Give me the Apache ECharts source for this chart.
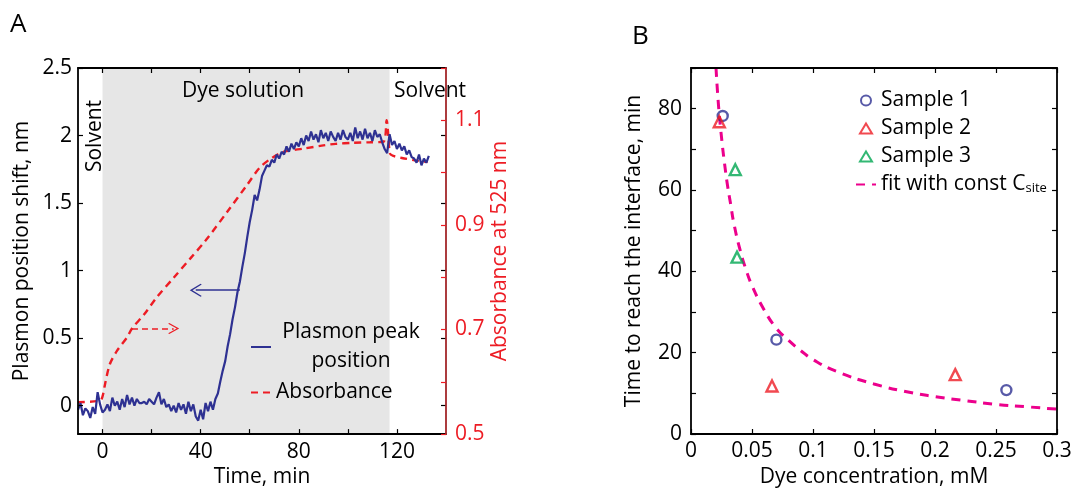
<!DOCTYPE html>
<html>
<head>
<meta charset="utf-8">
<script src="https://cdn.jsdelivr.net/npm/echarts@6/dist/echarts.min.js"></script>
<style>
  html, body { margin: 0; padding: 0; background: #fff; }
  #chart { width: 1077px; height: 493px; }
</style>
</head>
<body>
<div id="chart"></div>
<script>
// Panel A: plasmon peak shift, sampled every minute from -10 min
var plasmonStart = -10
var plasmonShift = [
  -0.03, 0.02, -0.07, -0.02, -0.04, -0.09, -0.01, -0.06, 0.10, 0.01,
  -0.05, -0.03, 0.01, -0.04, 0.06, 0.00, 0.03, -0.03, 0.05, -0.01,
  0.08, 0.01, 0.06, 0.00, 0.05, 0.02, 0.02, 0.03, 0.01, 0.05,
  0.03, 0.01, 0.06, 0.10, 0.01, 0.05, -0.01, 0.01, -0.04, 0.00,
  -0.05, 0.02, -0.03, 0.01, -0.06, 0.03, -0.04, 0.01, -0.08, -0.11,
  -0.03, -0.10, 0.02, -0.04, 0.03, -0.03, 0.05, 0.09, 0.18, 0.26,
  0.33, 0.44, 0.53, 0.64, 0.73, 0.84, 0.92, 1.03, 1.13, 1.25,
  1.36, 1.45, 1.56, 1.52, 1.60, 1.70, 1.74, 1.78, 1.77, 1.82,
  1.80, 1.86, 1.83, 1.88, 1.86, 1.92, 1.88, 1.94, 1.90, 1.95,
  1.92, 1.98, 1.93, 2.00, 1.96, 2.03, 1.97, 2.01, 1.95, 2.04,
  1.98, 2.02, 1.96, 2.03, 1.99, 1.96, 2.02, 1.97, 2.04, 1.99,
  1.97, 2.02, 1.96, 2.06, 1.98, 2.03, 1.97, 2.05, 1.98, 2.02,
  1.96, 2.04, 1.99, 2.01, 1.95, 1.90, 1.87, 2.01, 1.93, 1.96,
  1.90, 1.94, 1.89, 1.92, 1.86, 1.89, 1.84, 1.83, 1.80, 1.86,
  1.78, 1.83, 1.80, 1.85
]
var absTime = [-10, -1, 0, 1, 3, 6, 10, 12, 17, 22, 29, 36, 42, 51, 59, 64, 69, 74, 82, 90, 95, 102, 109, 114.5, 115.8, 116.5, 117.2, 118.5, 122, 128, 132.5]
var absValue = [0.561, 0.564, 0.572, 0.595, 0.634, 0.66, 0.685, 0.702, 0.729, 0.761, 0.799, 0.837, 0.87, 0.926, 0.977, 1.009, 1.028, 1.04, 1.046, 1.052, 1.055, 1.057, 1.058, 1.059, 1.10, 1.07, 1.036, 1.032, 1.028, 1.023, 1.02]
var dyeWindow = [0, 117]

// Panel B
var sample1X = [0.026, 0.07, 0.2585]
var sample1Y = [78.2, 23.2, 10.8]
var sample2X = [0.0232, 0.0664, 0.2166]
var sample2Y = [76.8, 11.8, 14.6]
var sample3X = [0.0363, 0.0377]
var sample3Y = [65, 43.5]
var fitX = [0.0205, 0.0225, 0.025, 0.0275, 0.03, 0.0325, 0.035, 0.04, 0.045, 0.05, 0.06, 0.07, 0.08, 0.09, 0.1, 0.12, 0.15, 0.18, 0.2, 0.225, 0.25, 0.275, 0.3]
var fitY = [90, 81, 73, 66.5, 61, 56.5, 52, 45.5, 40.5, 36.5, 30.5, 26, 23, 20.5, 18.3, 15.3, 12.3, 10.2, 9.2, 8.2, 7.3, 6.7, 6.1]

var timeTicks = [0, 20, 40, 60, 80, 100, 120]
var timeLabels = [0, 40, 80, 120]
var shiftTicks = [0, 0.5, 1, 1.5, 2, 2.5]
var absTicks = [0.5, 0.6, 0.7, 0.8, 0.9, 1.0, 1.1, 1.2]
var absLabels = [0.5, 0.7, 0.9, 1.1]

var BLUE = '#2e3192', RED = '#ed1c24', GREEN = '#00a651', PINK = '#ec008c'
var FONT = 'Open Sans'
var FS = 21
var CHEVRON = 'path://M0,0 L12,14 L10.5,15.5 L0,3.5 L-10.5,15.5 L-12,14 Z'
var TRI = 'path://M6,0 L12,10 L0,10 Z'
var NONE = 'rgba(255,255,255,0)'

function zip(xs, ys) {
  return xs.map(function (x, i) { return [x, ys[i]] })
}

var plasmonData = plasmonShift.map(function (v, i) { return [plasmonStart + i, v] })

var chart = echarts.init(document.getElementById('chart'))

var blackLine = { show: true, onZero: false, lineStyle: { color: '#000', width: 1.8 } }
var tickIn = function (vals, color) {
  var t = { show: true, inside: true, length: 5, lineStyle: { color: color || '#000', width: 1.2 } }
  if (vals) t.customValues = vals
  return t
}
var lbl = { color: '#000', fontSize: FS, fontFamily: FONT }
var nameStyle = { color: '#000', fontSize: FS, fontFamily: FONT }

chart.setOption({
  animation: false,
  textStyle: { fontFamily: FONT },
  grid: [
    { left: 78, top: 68, width: 368, height: 369 },
    { left: 691, top: 68, width: 366, height: 369 }
  ],
  legend: [
    {
      data: [
        { name: 'Plasmon peak position', itemStyle: { opacity: 0 } },
        { name: 'Absorbance', itemStyle: { opacity: 0 } }
      ],
      orient: 'vertical',
      left: 245, top: 317,
      itemWidth: 20, itemHeight: 12, itemGap: 10,
      textStyle: { fontSize: FS, color: '#000', fontFamily: FONT, rich: { a: { width: 150, align: 'center', fontSize: FS, lineHeight: 29 } } },
      formatter: function (n) {
        return n === 'Plasmon peak position' ? '{a|Plasmon peak}\n{a|position}' : n
      }
    },
    {
      data: [
        { name: 'Sample 1', icon: 'circle' },
        { name: 'Sample 2', icon: TRI },
        { name: 'Sample 3', icon: TRI },
        { name: 'fit with const C_site', itemStyle: { opacity: 0 } }
      ],
      orient: 'vertical',
      left: 850, top: 85,
      itemWidth: 20, itemHeight: 10, itemGap: 7,
      symbolKeepAspect: true,
      textStyle: {
        fontSize: FS, color: '#000', fontFamily: FONT, lineHeight: 21,
        rich: { sub: { fontSize: 13, verticalAlign: 'bottom', padding: [12, 0, 0, 0] } }
      },
      formatter: function (n) {
        return n === 'fit with const C_site' ? 'fit with const C{sub|site}' : n
      }
    }
  ],
  xAxis: [
    {
      gridIndex: 0, type: 'value', min: -10, max: 140, position: 'bottom', z: 5,
      axisLine: blackLine, axisTick: tickIn(timeTicks),
      axisLabel: Object.assign({ customValues: timeLabels, margin: 7 }, lbl),
      splitLine: { show: false },
      name: 'Time, min', nameLocation: 'middle', nameGap: 27, nameTextStyle: nameStyle
    },
    {
      gridIndex: 0, type: 'value', min: -10, max: 140, position: 'top', z: 5,
      axisLine: blackLine, axisTick: tickIn(timeTicks),
      axisLabel: { show: false }, splitLine: { show: false }
    },
    {
      gridIndex: 1, type: 'value', min: 0, max: 0.3, interval: 0.05, position: 'bottom', z: 5,
      axisLine: blackLine, axisTick: tickIn(),
      axisLabel: Object.assign({ margin: 7 }, lbl),
      splitLine: { show: false },
      name: 'Dye concentration, mM', nameLocation: 'middle', nameGap: 33, nameTextStyle: nameStyle
    },
    {
      gridIndex: 1, type: 'value', min: 0, max: 0.3, interval: 0.05, position: 'top', z: 5,
      axisLine: blackLine, axisTick: tickIn(),
      axisLabel: { show: false }, splitLine: { show: false }
    }
  ],
  yAxis: [
    {
      gridIndex: 0, type: 'value', min: -0.21, max: 2.5, position: 'left', z: 5,
      axisLine: blackLine, axisTick: tickIn(shiftTicks),
      axisLabel: Object.assign({ customValues: shiftTicks, margin: 6 }, lbl),
      splitLine: { show: false },
      name: 'Plasmon position shift, nm', nameLocation: 'middle', nameGap: 45, nameTextStyle: nameStyle
    },
    {
      gridIndex: 0, type: 'value', min: 0.5, max: 1.2, position: 'right', z: 6,
      axisLine: { show: true, onZero: false, lineStyle: { color: '#a3262a', width: 1.8 } },
      axisTick: tickIn(absTicks, RED),
      axisLabel: { customValues: absLabels, margin: 9, color: RED, fontSize: FS, fontFamily: FONT },
      splitLine: { show: false },
      name: 'Absorbance at 525 nm', nameLocation: 'middle', nameGap: 44, nameRotate: 90,
      nameTextStyle: { color: RED, fontSize: FS, fontFamily: FONT }
    },
    {
      gridIndex: 0, type: 'value', min: -0.21, max: 2.5, position: 'right', z: 5,
      axisLine: { show: false, onZero: false }, axisTick: tickIn([0, 0.5, 1, 1.5, 2]),
      axisLabel: { show: false }, splitLine: { show: false }
    },
    {
      gridIndex: 1, type: 'value', min: 0, max: 90, interval: 10, position: 'left', z: 5,
      axisLine: blackLine, axisTick: tickIn(),
      axisLabel: Object.assign({ margin: 9, formatter: function (v) { return v % 20 === 0 ? v : '' } }, lbl),
      splitLine: { show: false },
      name: 'Time to reach the interface, min', nameLocation: 'middle', nameGap: 46, nameTextStyle: nameStyle
    },
    {
      gridIndex: 1, type: 'value', min: 0, max: 90, interval: 10, position: 'right', z: 5,
      axisLine: blackLine, axisTick: tickIn(),
      axisLabel: { show: false }, splitLine: { show: false }
    }
  ],
  series: [
    {
      // grey band while dye solution flows
      type: 'line', xAxisIndex: 0, yAxisIndex: 0, data: [], z: 1, silent: true,
      markArea: {
        silent: true,
        itemStyle: { color: '#e6e6e6' },
        data: [[{ xAxis: dyeWindow[0] }, { xAxis: dyeWindow[1] }]]
      }
    },
    {
      name: 'Absorbance', type: 'line', xAxisIndex: 0, yAxisIndex: 1, z: 3,
      data: zip(absTime, absValue), symbol: 'none', smooth: 0.3,
      lineStyle: { color: RED, width: 2.4, type: [7, 5] },
      itemStyle: { color: RED },
      markLine: {
        silent: true, animation: false,
        symbol: ['none', CHEVRON], symbolSize: [11, 11],
        label: { show: false },
        lineStyle: { color: RED, width: 1.6, type: [6, 4] },
        data: [[{ coord: [12, 0.702] }, { coord: [29, 0.702] }]]
      }
    },
    {
      name: 'Plasmon peak position', type: 'line', xAxisIndex: 0, yAxisIndex: 0, z: 4,
      data: plasmonData, symbol: 'none',
      lineStyle: { color: BLUE, width: 2.2 },
      itemStyle: { color: BLUE },
      markLine: {
        silent: true, animation: false,
        symbol: ['none', CHEVRON], symbolSize: [13, 12],
        label: { show: false },
        lineStyle: { color: BLUE, width: 1.6, type: 'solid' },
        data: [[{ coord: [56, 0.855] }, { coord: [38, 0.855] }]]
      }
    },
    {
      name: 'fit with const C_site', type: 'line', xAxisIndex: 2, yAxisIndex: 3,
      data: zip(fitX, fitY), symbol: 'none', smooth: true,
      lineStyle: { color: PINK, width: 3, type: [9, 7] },
      itemStyle: { color: PINK }
    },
    {
      name: 'Sample 1', type: 'scatter', xAxisIndex: 2, yAxisIndex: 3, z: 5,
      data: zip(sample1X, sample1Y), symbol: 'circle', symbolSize: 10,
      itemStyle: { color: NONE, borderColor: BLUE, borderWidth: 2.4 }
    },
    {
      name: 'Sample 2', type: 'scatter', xAxisIndex: 2, yAxisIndex: 3, z: 5,
      data: zip(sample2X, sample2Y), symbol: 'triangle', symbolSize: 11,
      itemStyle: { color: NONE, borderColor: RED, borderWidth: 2.4 }
    },
    {
      name: 'Sample 3', type: 'scatter', xAxisIndex: 2, yAxisIndex: 3, z: 5,
      data: zip(sample3X, sample3Y), symbol: 'triangle', symbolSize: 11,
      itemStyle: { color: NONE, borderColor: GREEN, borderWidth: 2.4 }
    }
  ],
  graphic: [
    { type: 'text', left: 10, top: 12, style: { text: 'A', fontSize: 26, fontFamily: FONT, fill: '#000' } },
    { type: 'text', left: 632, top: 24, style: { text: 'B', fontSize: 26, fontFamily: FONT, fill: '#000' } },
    { type: 'text', x: 243, y: 91, z: 10, style: { text: 'Dye solution', fontSize: FS, fontFamily: FONT, fill: '#000', align: 'center', verticalAlign: 'middle' } },
    { type: 'text', x: 430, y: 91, z: 10, style: { text: 'Solvent', fontSize: FS, fontFamily: FONT, fill: '#000', align: 'center', verticalAlign: 'middle' } },
    { type: 'text', x: 95, y: 136, z: 10, rotation: Math.PI / 2, style: { text: 'Solvent', fontSize: FS, fontFamily: FONT, fill: '#000', align: 'center', verticalAlign: 'middle' } }
  ]
})
</script>
</body>
</html>
